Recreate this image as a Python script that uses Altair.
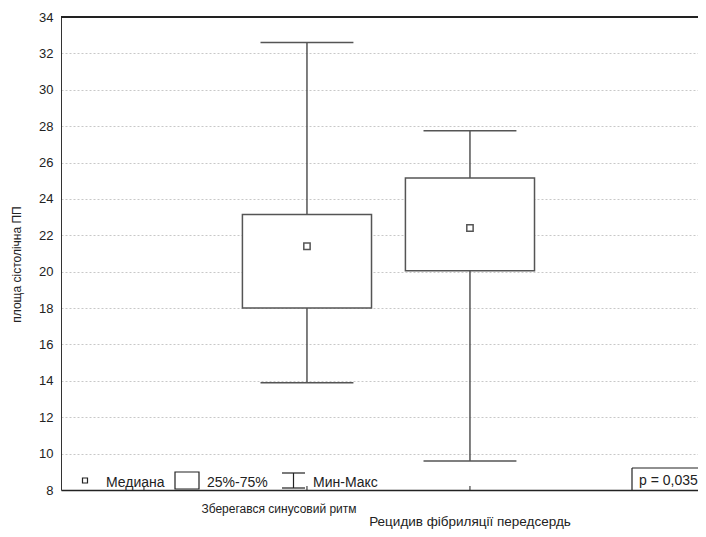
import altair as alt
import pandas as pd

# ---- data ----
categories = ["Зберегався синусовий ритм", "Рецидив фібриляції передсердь"]
positions = [1, 2]
minimum = [13.9, 9.6]
lower_quartile = [18.0, 20.05]
median = [21.4, 22.4]
upper_quartile = [23.15, 25.15]
maximum = [32.6, 27.75]
y_ticks = [8, 10, 12, 14, 16, 18, 20, 22, 24, 26, 28, 30, 32, 34]
x_ticks = [0, 1, 2]
legend_labels = ["Медиана", "25%-75%", "Мин-Макс"]
p_text = "p = 0,035"
y_title = "площа сістолічна ПП"

# ---- layout / style ----
W, H = 637, 473
BOX_HALF = 0.396
CAP_HALF = 0.285
INK = "#555555"
TXT = "#222222"
FONT = "Liberation Sans"

df = pd.DataFrame({
    "cat": categories, "pos": positions, "mn": minimum, "q1": lower_quartile,
    "med": median, "q3": upper_quartile, "mx": maximum,
})
df["box_l"] = df["pos"] - BOX_HALF
df["box_r"] = df["pos"] + BOX_HALF
df["cap_l"] = df["pos"] - CAP_HALF
df["cap_r"] = df["pos"] + CAP_HALF

one = pd.DataFrame({"k": [0]})
ticks_df = pd.DataFrame({"t": x_ticks})

xs = alt.Scale(domain=[-0.509, 3.399], nice=False, zero=False)
ys = alt.Scale(domain=[8, 34], nice=False, zero=False)

x_axis = alt.Axis(labels=False, ticks=False, grid=False, title=None,
                  domainColor=TXT, domainWidth=1.5)
y_axis = alt.Axis(values=y_ticks, title=y_title, ticks=False, grid=True,
                  gridDash=[2, 2], gridColor="#c8c8c8", gridWidth=1,
                  labelFontSize=13, labelFont=FONT, labelColor=TXT, labelPadding=8,
                  domainColor="#333333", domainWidth=1,
                  titleFont=FONT, titleFontSize=12, titleFontWeight="normal",
                  titleColor=TXT, titleAngle=-90, titleX=-41, titleY=247,
                  titleAlign="center", titleBaseline="alphabetic")


def X(field):
    return alt.X(field, type="quantitative", scale=xs, axis=x_axis, title=None)


def Y(field):
    return alt.Y(field, type="quantitative", scale=ys, axis=y_axis, title=y_title)


whisk_lo = alt.Chart(df).mark_rule(color=INK, strokeWidth=1.5).encode(
    x=X("pos"), y=Y("mn"), y2="q1:Q")
whisk_hi = alt.Chart(df).mark_rule(color=INK, strokeWidth=1.5).encode(
    x=X("pos"), y=Y("q3"), y2="mx:Q")
cap_top = alt.Chart(df).mark_rule(color=INK, strokeWidth=1.5).encode(
    x=X("cap_l"), x2="cap_r:Q", y=Y("mx"))
cap_bot = alt.Chart(df).mark_rule(color=INK, strokeWidth=1.5).encode(
    x=X("cap_l"), x2="cap_r:Q", y=Y("mn"))
boxes = alt.Chart(df).mark_rect(fill="white", stroke=INK, strokeWidth=1.5).encode(
    x=X("box_l"), x2="box_r:Q", y=Y("q1"), y2="q3:Q")
medians = alt.Chart(df).mark_square(size=40, filled=True, fill="white",
                                     stroke=INK, strokeWidth=1.5, opacity=1).encode(
    x=X("pos"), y=Y("med"))

# x tick marks (inside)
xtick_marks = alt.Chart(ticks_df).mark_rule(color=TXT, strokeWidth=1).encode(
    x=X("t"), y=alt.value(H - 4), y2=alt.value(H))

# top frame line
top_line = alt.Chart(one).mark_rule(color=TXT, strokeWidth=2).encode(
    x=alt.value(0), x2=alt.value(W), y=alt.value(0))

# category labels (staggered)
lab1 = alt.Chart(one).mark_text(text=categories[0], font=FONT, fontSize=12,
                                color=TXT, align="center", baseline="alphabetic").encode(
    x=alt.value(218), y=alt.value(496))
lab2 = alt.Chart(one).mark_text(text=categories[1], font=FONT, fontSize=13.5,
                                color=TXT, align="center", baseline="alphabetic").encode(
    x=alt.value(409), y=alt.value(509))

# legend inside the plot, bottom-left
leg_sq = alt.Chart(one).mark_square(size=25, filled=True, fill="white",
                                    stroke=TXT, strokeWidth=1.2, opacity=1).encode(
    x=alt.value(24), y=alt.value(463.5))
leg_box = alt.Chart(one).mark_rect(fill="white", stroke=TXT, strokeWidth=1.2).encode(
    x=alt.value(114), x2=alt.value(138), y=alt.value(455), y2=alt.value(472))
leg_w_top = alt.Chart(one).mark_rule(color=TXT, strokeWidth=1.2).encode(
    x=alt.value(221), x2=alt.value(244), y=alt.value(456))
leg_w_stem = alt.Chart(one).mark_rule(color=TXT, strokeWidth=1.2).encode(
    x=alt.value(232.5), y=alt.value(456), y2=alt.value(471))
leg_w_bot = alt.Chart(one).mark_rule(color=TXT, strokeWidth=1.2).encode(
    x=alt.value(221), x2=alt.value(244), y=alt.value(471))
leg_t1 = alt.Chart(one).mark_text(text=legend_labels[0], font=FONT, fontSize=14,
                                  color=TXT, align="left", baseline="alphabetic").encode(
    x=alt.value(45), y=alt.value(470))
leg_t2 = alt.Chart(one).mark_text(text=legend_labels[1], font=FONT, fontSize=14,
                                  color=TXT, align="left", baseline="alphabetic").encode(
    x=alt.value(146), y=alt.value(470))
leg_t3 = alt.Chart(one).mark_text(text=legend_labels[2], font=FONT, fontSize=14,
                                  color=TXT, align="left", baseline="alphabetic").encode(
    x=alt.value(252), y=alt.value(470))

# p-value box (open to the right edge)
p_box_left = alt.Chart(one).mark_rule(color=TXT, strokeWidth=1.2).encode(
    x=alt.value(571), y=alt.value(451), y2=alt.value(H))
p_box_top = alt.Chart(one).mark_rule(color=TXT, strokeWidth=1.2).encode(
    x=alt.value(571), x2=alt.value(W), y=alt.value(451))
p_lab = alt.Chart(one).mark_text(text=p_text, font=FONT, fontSize=14,
                                 color=TXT, align="left", baseline="alphabetic").encode(
    x=alt.value(578), y=alt.value(468))

chart = alt.layer(
    whisk_lo, whisk_hi, cap_top, cap_bot, boxes, medians, xtick_marks, top_line,
    lab1, lab2, leg_sq, leg_box, leg_w_top, leg_w_stem, leg_w_bot,
    leg_t1, leg_t2, leg_t3, p_box_left, p_box_top, p_lab,
).properties(
    width=W, height=H,
    autosize=alt.AutoSizeParams(type="none"),
    padding={"left": 53, "top": 9, "right": 0, "bottom": 39},
    background="white",
).configure_view(stroke="white", strokeWidth=1)

chart.save("out.html", embed_options={"renderer": "svg", "actions": False})
